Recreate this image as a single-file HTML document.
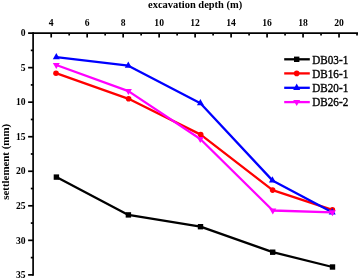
<!DOCTYPE html>
<html><head><meta charset="utf-8"><style>
html,body{margin:0;padding:0;background:#fff;width:358px;height:278px;overflow:hidden}
svg{display:block;will-change:transform}
.lab{font-family:"Liberation Serif",serif;font-weight:bold;font-size:9.6px;fill:#000}
.ttl{font-family:"Liberation Serif",serif;font-weight:bold;font-size:11px;fill:#000}
.ttl2{font-family:"Liberation Serif",serif;font-weight:bold;font-size:11.4px;fill:#000}
.leg{font-family:"Liberation Serif",serif;font-weight:normal;font-size:12px;fill:#000;stroke:#000;stroke-width:0.35px}
</style></head><body>
<svg width="358" height="278" viewBox="0 0 358 278">
<line x1="28.10" y1="33.1" x2="358" y2="33.1" stroke="#000" stroke-width="1.7"/>
<line x1="33.1" y1="32.25" x2="33.1" y2="275.73" stroke="#000" stroke-width="1.7"/>
<line x1="51.20" y1="33.1" x2="51.20" y2="37.50" stroke="#000" stroke-width="1.7"/>
<text x="51.20" y="26.3" class="lab" text-anchor="middle">4</text>
<line x1="69.19" y1="33.1" x2="69.19" y2="35.50" stroke="#000" stroke-width="1.7"/>
<line x1="87.18" y1="33.1" x2="87.18" y2="37.50" stroke="#000" stroke-width="1.7"/>
<text x="87.18" y="26.3" class="lab" text-anchor="middle">6</text>
<line x1="105.17" y1="33.1" x2="105.17" y2="35.50" stroke="#000" stroke-width="1.7"/>
<line x1="123.16" y1="33.1" x2="123.16" y2="37.50" stroke="#000" stroke-width="1.7"/>
<text x="123.16" y="26.3" class="lab" text-anchor="middle">8</text>
<line x1="141.15" y1="33.1" x2="141.15" y2="35.50" stroke="#000" stroke-width="1.7"/>
<line x1="159.14" y1="33.1" x2="159.14" y2="37.50" stroke="#000" stroke-width="1.7"/>
<text x="159.14" y="26.3" class="lab" text-anchor="middle">10</text>
<line x1="177.13" y1="33.1" x2="177.13" y2="35.50" stroke="#000" stroke-width="1.7"/>
<line x1="195.12" y1="33.1" x2="195.12" y2="37.50" stroke="#000" stroke-width="1.7"/>
<text x="195.12" y="26.3" class="lab" text-anchor="middle">12</text>
<line x1="213.11" y1="33.1" x2="213.11" y2="35.50" stroke="#000" stroke-width="1.7"/>
<line x1="231.10" y1="33.1" x2="231.10" y2="37.50" stroke="#000" stroke-width="1.7"/>
<text x="231.10" y="26.3" class="lab" text-anchor="middle">14</text>
<line x1="249.09" y1="33.1" x2="249.09" y2="35.50" stroke="#000" stroke-width="1.7"/>
<line x1="267.08" y1="33.1" x2="267.08" y2="37.50" stroke="#000" stroke-width="1.7"/>
<text x="267.08" y="26.3" class="lab" text-anchor="middle">16</text>
<line x1="285.07" y1="33.1" x2="285.07" y2="35.50" stroke="#000" stroke-width="1.7"/>
<line x1="303.06" y1="33.1" x2="303.06" y2="37.50" stroke="#000" stroke-width="1.7"/>
<text x="303.06" y="26.3" class="lab" text-anchor="middle">18</text>
<line x1="321.05" y1="33.1" x2="321.05" y2="35.50" stroke="#000" stroke-width="1.7"/>
<line x1="339.04" y1="33.1" x2="339.04" y2="37.50" stroke="#000" stroke-width="1.7"/>
<text x="339.04" y="26.3" class="lab" text-anchor="middle">20</text>
<line x1="357.03" y1="33.1" x2="357.03" y2="35.50" stroke="#000" stroke-width="1.7"/>
<text x="25.6" y="36.30" class="lab" text-anchor="end">0</text>
<line x1="30.80" y1="50.37" x2="33.1" y2="50.37" stroke="#000" stroke-width="1.7"/>
<line x1="28.10" y1="67.64" x2="33.1" y2="67.64" stroke="#000" stroke-width="1.7"/>
<text x="25.6" y="70.84" class="lab" text-anchor="end">5</text>
<line x1="30.80" y1="84.91" x2="33.1" y2="84.91" stroke="#000" stroke-width="1.7"/>
<line x1="28.10" y1="102.18" x2="33.1" y2="102.18" stroke="#000" stroke-width="1.7"/>
<text x="25.6" y="105.38" class="lab" text-anchor="end">10</text>
<line x1="30.80" y1="119.45" x2="33.1" y2="119.45" stroke="#000" stroke-width="1.7"/>
<line x1="28.10" y1="136.72" x2="33.1" y2="136.72" stroke="#000" stroke-width="1.7"/>
<text x="25.6" y="139.92" class="lab" text-anchor="end">15</text>
<line x1="30.80" y1="153.99" x2="33.1" y2="153.99" stroke="#000" stroke-width="1.7"/>
<line x1="28.10" y1="171.26" x2="33.1" y2="171.26" stroke="#000" stroke-width="1.7"/>
<text x="25.6" y="174.46" class="lab" text-anchor="end">20</text>
<line x1="30.80" y1="188.53" x2="33.1" y2="188.53" stroke="#000" stroke-width="1.7"/>
<line x1="28.10" y1="205.80" x2="33.1" y2="205.80" stroke="#000" stroke-width="1.7"/>
<text x="25.6" y="209.00" class="lab" text-anchor="end">25</text>
<line x1="30.80" y1="223.07" x2="33.1" y2="223.07" stroke="#000" stroke-width="1.7"/>
<line x1="28.10" y1="240.34" x2="33.1" y2="240.34" stroke="#000" stroke-width="1.7"/>
<text x="25.6" y="243.54" class="lab" text-anchor="end">30</text>
<line x1="30.80" y1="257.61" x2="33.1" y2="257.61" stroke="#000" stroke-width="1.7"/>
<line x1="28.10" y1="274.88" x2="33.1" y2="274.88" stroke="#000" stroke-width="1.7"/>
<text x="25.6" y="278.08" class="lab" text-anchor="end">35</text>
<text transform="translate(148.0,7.6) scale(0.953,1)" class="ttl">excavation depth (m)</text>
<text transform="translate(8.7,199.8) rotate(-90) scale(0.956,1)" x="0" y="0" class="ttl2">settlement (mm)</text>
<polyline points="56.40,177.10 128.40,214.90 200.50,226.70 272.70,252.20 332.50,267.00" fill="none" stroke="#000" stroke-width="2.3" stroke-linejoin="round" stroke-linecap="butt"/>
<rect x="53.70" y="174.40" width="5.4" height="5.4" fill="#000"/>
<rect x="125.70" y="212.20" width="5.4" height="5.4" fill="#000"/>
<rect x="197.80" y="224.00" width="5.4" height="5.4" fill="#000"/>
<rect x="270.00" y="249.50" width="5.4" height="5.4" fill="#000"/>
<rect x="329.80" y="264.30" width="5.4" height="5.4" fill="#000"/>
<polyline points="56.00,73.20 128.60,98.80 200.70,134.60 272.60,190.10 332.40,209.90" fill="none" stroke="#f00" stroke-width="2.3" stroke-linejoin="round" stroke-linecap="butt"/>
<circle cx="56.00" cy="73.20" r="2.8" fill="#f00"/>
<circle cx="128.60" cy="98.80" r="2.8" fill="#f00"/>
<circle cx="200.70" cy="134.60" r="2.8" fill="#f00"/>
<circle cx="272.60" cy="190.10" r="2.8" fill="#f00"/>
<circle cx="332.40" cy="209.90" r="2.8" fill="#f00"/>
<polyline points="56.30,57.20 128.30,65.70 200.40,103.20 272.40,180.40 332.20,212.30" fill="none" stroke="#00f" stroke-width="2.3" stroke-linejoin="round" stroke-linecap="butt"/>
<polygon points="56.30,53.00 59.80,59.30 52.80,59.30" fill="#00f"/>
<polygon points="128.30,61.50 131.80,67.80 124.80,67.80" fill="#00f"/>
<polygon points="200.40,99.00 203.90,105.30 196.90,105.30" fill="#00f"/>
<polygon points="272.40,176.20 275.90,182.50 268.90,182.50" fill="#00f"/>
<polygon points="332.20,208.10 335.70,214.40 328.70,214.40" fill="#00f"/>
<polyline points="56.30,65.00 128.40,91.10 200.30,139.00 272.80,210.50 332.40,212.30" fill="none" stroke="#f0f" stroke-width="2.3" stroke-linejoin="round" stroke-linecap="butt"/>
<polygon points="52.80,63.00 59.80,63.00 56.30,69.00" fill="#f0f"/>
<polygon points="124.90,89.10 131.90,89.10 128.40,95.10" fill="#f0f"/>
<polygon points="196.80,137.00 203.80,137.00 200.30,143.00" fill="#f0f"/>
<polygon points="269.30,208.50 276.30,208.50 272.80,214.50" fill="#f0f"/>
<polygon points="328.90,210.30 335.90,210.30 332.40,216.30" fill="#f0f"/>
<line x1="284.2" y1="59.3" x2="309.8" y2="59.3" stroke="#000" stroke-width="2.3"/>
<rect x="294.00" y="56.60" width="5.4" height="5.4" fill="#000"/>
<text transform="translate(312.3,63.50) scale(0.93,1)" class="leg">DB03-1</text>
<line x1="284.2" y1="73.4" x2="309.8" y2="73.4" stroke="#f00" stroke-width="2.3"/>
<circle cx="296.70" cy="73.40" r="2.8" fill="#f00"/>
<text transform="translate(312.3,77.60) scale(0.93,1)" class="leg">DB16-1</text>
<line x1="284.2" y1="87.8" x2="309.8" y2="87.8" stroke="#00f" stroke-width="2.3"/>
<polygon points="296.70,83.60 300.20,89.90 293.20,89.90" fill="#00f"/>
<text transform="translate(312.3,92.00) scale(0.93,1)" class="leg">DB20-1</text>
<line x1="284.2" y1="102.1" x2="309.8" y2="102.1" stroke="#f0f" stroke-width="2.3"/>
<polygon points="293.20,100.10 300.20,100.10 296.70,106.10" fill="#f0f"/>
<text transform="translate(312.3,106.30) scale(0.93,1)" class="leg">DB26-2</text>
</svg>
</body></html>
